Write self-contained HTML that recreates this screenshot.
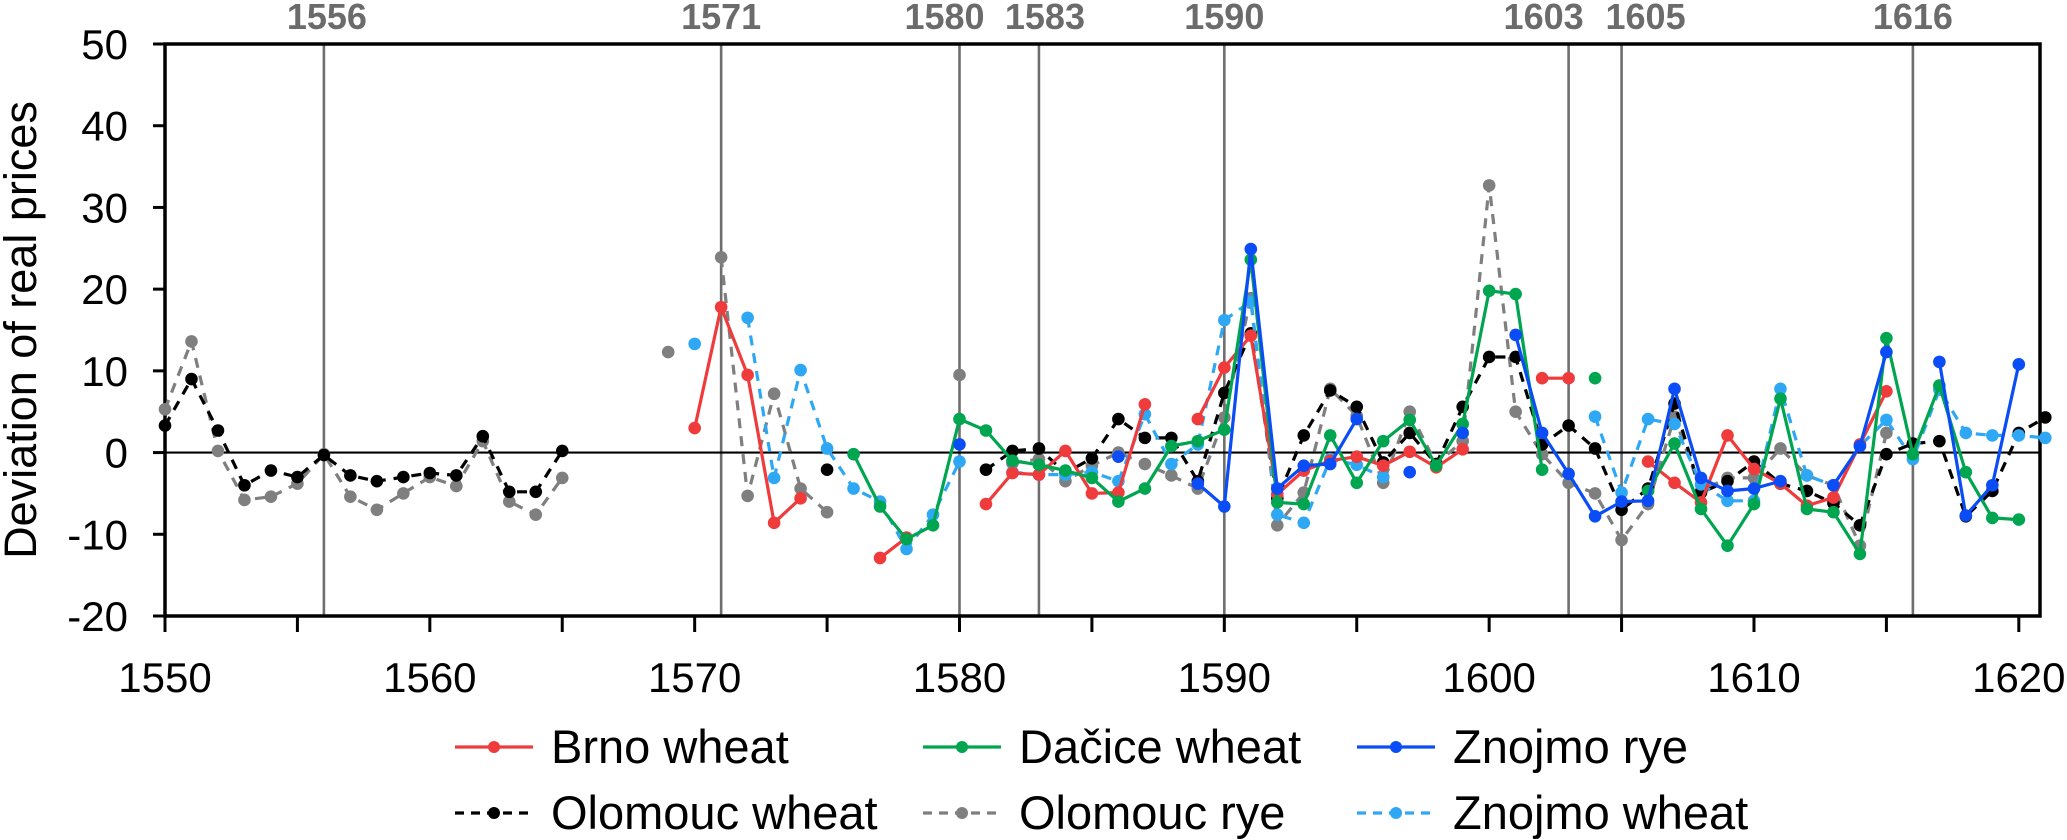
<!DOCTYPE html>
<html><head><meta charset="utf-8"><style>
html,body{margin:0;padding:0;background:#fff;}
svg{display:block;font-family:"Liberation Sans",Arial,sans-serif;}
</style></head><body>
<svg id="chart" width="2067" height="840" viewBox="0 0 2067 840" xmlns="http://www.w3.org/2000/svg">
<g id="refs"></g>
<g id="axes"></g>
<g id="series"></g>
<g id="legend"></g>
</svg>
<script>
const years = [];
for (let y = 1550; y <= 1621; y++) years.push(y);
const refYears = [1556,1571,1580,1583,1590,1603,1605,1616];
const refLabelShift = {1556:3,1580:-15,1583:6,1603:-25,1605:24};
const yTicks = [50,40,30,20,10,0,-10,-20];
const xTickLabels = [1550,1560,1570,1580,1590,1600,1610,1620];
const N = null;
// values indexed from 1550 to 1621
const brnoWheat = [N,N,N,N,N,N,N,N,N,N, N,N,N,N,N,N,N,N,N,N,
 3.0,17.8,9.5,-8.6,-5.6,N,N,-12.9,-10.4,N, N,-6.3,-2.5,-2.7,0.2,-5,-4.9,5.9,N,4.1,
 10.4,14.3,-5.1,-2.2,-1.0,-0.5,-1.6,0.1,-1.8,0.4, N,N,9.1,9.1,N,N,-1.1,-3.7,-6.1,2.1,
 -2.0,-3.8,-6.5,-5.5,1.0,7.5,N,N,N,N,N,N];
const dacice = [N,N,N,N,N,N,N,N,N,N, N,N,N,N,N,N,N,N,N,N,
 N,N,N,N,N,N,-0.2,-6.6,-10.6,-8.9, 4.1,2.7,-1.0,-1.5,-2.2,-3.1,-6.0,-4.4,0.8,1.4,
 2.8,23.6,-6.1,-6.3,2.1,-3.7,1.4,4.0,-1.6,3.5, 19.8,19.4,-2.1,N,9.1,N,-4.7,1.1,-6.9,-11.4,
 -6.3,6.6,-6.9,-7.3,-12.4,14.0,-0.2,8.2,-2.4,-8.0,-8.2,N];
const znojmoRye = [N,N,N,N,N,N,N,N,N,N, N,N,N,N,N,N,N,N,N,N,
 N,N,N,N,N,N,N,N,N,N, 1.0,N,N,N,N,N,-0.5,N,N,-3.8,
 -6.6,24.9,-4.4,-1.6,-1.4,4.1,N,-2.4,N,2.4, N,14.4,2.4,-2.6,-7.8,-6.0,-5.9,7.8,-3.1,-4.7,
 -4.4,-3.5,N,-4.0,0.8,12.3,N,11.1,-7.7,-4.0,10.8,N];
const olomoucWheat = [3.3,9.0,2.7,-4.0,-2.2,-3.0,-0.3,-2.8,-3.5,-3.0, -2.5,-2.8,2.0,-4.8,-4.8,0.2,N,N,N,N,
 N,N,N,N,N,-2.1,N,N,N,N, N,-2.1,0.2,0.5,-2.5,-0.7,4.1,1.8,1.8,-3.5,
 7.3,14.6,-5.6,2.1,7.6,5.6,-1.2,2.4,-1.4,5.6, 11.7,11.7,1.0,3.3,0.5,-7.0,-4.4,6.0,-4.9,-3.5,
 -1.1,-3.8,-4.7,-6.2,-8.9,-0.2,1.1,1.4,-7.8,-4.7,2.4,4.3];
const olomoucRye = [5.3,13.6,0.2,-5.8,-5.4,-3.8,-0.2,-5.4,-7.0,-5.0, -3.0,-4.1,1.4,-6.0,-7.6,-3.1,N,N,N,12.3,
 N,23.9,-5.3,7.2,-4.4,-7.3,N,N,N,N, 9.5,N,-1.3,-0.8,-3.5,-1.6,0,-1.4,-2.8,-4.4,
 4.3,18.9,-8.9,-4.9,7.8,4.5,-3.7,5.0,-1.4,1.4, 32.7,5.0,-0.2,-3.7,-5.0,-10.7,-6.3,4.4,-4.7,-3.1,
 -3.1,0.5,-2.8,-4.0,-11.4,2.4,N,N,N,N,N,N];
const znojmoWheat = [N,N,N,N,N,N,N,N,N,N, N,N,N,N,N,N,N,N,N,N,
 13.3,N,16.5,-3.1,10.1,0.5,-4.4,-6.0,-11.8,-7.6, -1.1,N,-2.4,-2.7,-2.7,-2.4,-3.5,4.7,-1.4,1.0,
 16.2,18.5,-7.6,-8.6,-0.8,-1.5,-3.0,N,N,N, N,N,N,N,4.4,-4.9,4.1,3.5,-3.9,-5.9,
 -5.9,7.8,-2.8,-4.0,0.8,4.0,-0.8,7.7,2.4,2.1,2.1,1.8];

const L=165, R=2040, T=44, B=616, X0=1550, X1=1620.8;
const xs = y => L + (y - X0) * (R - L) / (X1 - X0);
const ys = v => T + (50 - v) * (B - T) / 70;
const NS = "http://www.w3.org/2000/svg";
function mk(tag, attrs, parent){ const e=document.createElementNS(NS,tag); for(const k in attrs) e.setAttribute(k,attrs[k]); parent.appendChild(e); return e; }

const refs = document.getElementById('refs');
refYears.forEach(y => {
  const ln = mk('line',{x1:xs(y),x2:xs(y),y1:T,y2:B,stroke:'#6e6e6e','stroke-width':2.6},refs);
  
  
  const t = mk('text',{x:xs(y)+(refLabelShift[y]||0),y:29,'text-anchor':'middle','font-size':36,'font-weight':'bold',fill:'#6b6b6b'},refs);
  t.textContent = y;
  
  
});

const axes = document.getElementById('axes');
const zl = mk('line',{x1:L,x2:R,y1:ys(0),y2:ys(0),stroke:'#000','stroke-width':2.2},axes);


const frame = mk('rect',{x:L,y:T,width:R-L,height:B-T,fill:'none',stroke:'#000','stroke-width':3.5},axes);


yTicks.forEach(v => {
  mk('line',{x1:L-12,x2:L,y1:ys(v),y2:ys(v),stroke:'#000','stroke-width':3},axes);
  const t = mk('text',{x:L-37,y:ys(v)+15,'text-anchor':'end','font-size':42,fill:'#000'},axes);
  t.textContent = v;
  
  
});
for (let y = 1550; y <= 1620; y += 5) {
  mk('line',{x1:xs(y),x2:xs(y),y1:B,y2:B+16,stroke:'#000','stroke-width':3},axes);
}
xTickLabels.forEach(y => {
  const t = mk('text',{x:xs(y),y:692,'text-anchor':'middle','font-size':42,fill:'#000'},axes);
  t.textContent = y;
  
  
});
const yt = mk('text',{x:0,y:0,'text-anchor':'middle','font-size':45,fill:'#000',transform:'translate(36,'+((T+B)/2)+') rotate(-90)'},axes);
yt.textContent = 'Deviation of real prices';



const seriesDefs = [
  {name:'olomouc-rye', label:'Olomouc rye', data:olomoucRye, color:'#7f7f7f', dash:'10,8'},
  {name:'olomouc-wheat', label:'Olomouc wheat', data:olomoucWheat, color:'#000000', dash:'10,8'},
  {name:'znojmo-wheat', label:'Znojmo wheat', data:znojmoWheat, color:'#2ea8f5', dash:'10,8'},
  {name:'brno-wheat', label:'Brno wheat', data:brnoWheat, color:'#ef3b3b', dash:null},
  {name:'dacice-wheat', label:'Dačice wheat', data:dacice, color:'#00a550', dash:null},
  {name:'znojmo-rye', label:'Znojmo rye', data:znojmoRye, color:'#0a4cf5', dash:null}
];
const sg = document.getElementById('series');
seriesDefs.forEach(s => {
  const g = mk('g',{},sg);
  
  
  let d = '', pen = false;
  s.data.forEach((v,i) => {
    if (v === null) { pen = false; return; }
    d += (pen ? 'L' : 'M') + xs(years[i]).toFixed(1) + ' ' + ys(v).toFixed(1) + ' ';
    pen = true;
  });
  const p = mk('path',{d:d,fill:'none',stroke:s.color,'stroke-width':3.2,'stroke-linejoin':'round'},g);
  if (s.dash) p.setAttribute('stroke-dasharray', s.dash);
  
  
  s.data.forEach((v,i) => {
    if (v === null) return;
    const c = mk('circle',{cx:xs(years[i]),cy:ys(v),r:6.3,fill:s.color},g);
    
    
  });
});

const lg = document.getElementById('legend');
const legendOrder = [
  ['brno-wheat',455,747],['dacice-wheat',923,747],['znojmo-rye',1357,747],
  ['olomouc-wheat',455,813],['olomouc-rye',923,813],['znojmo-wheat',1357,813]
];
legendOrder.forEach(([nm,x,y]) => {
  const s = seriesDefs.find(q => q.name === nm);
  const g = mk('g',{},lg);
  
  
  const l = mk('line',{x1:x,x2:x+78,y1:y,y2:y,stroke:s.color,'stroke-width':3.2},g);
  if (s.dash) l.setAttribute('stroke-dasharray','9,7');
  mk('circle',{cx:x+39,cy:y,r:6,fill:s.color},g);
  const t = mk('text',{x:x+96,y:y+16,'font-size':47,fill:'#000'},g);
  t.textContent = s.label;
});
</script>
</body></html>
